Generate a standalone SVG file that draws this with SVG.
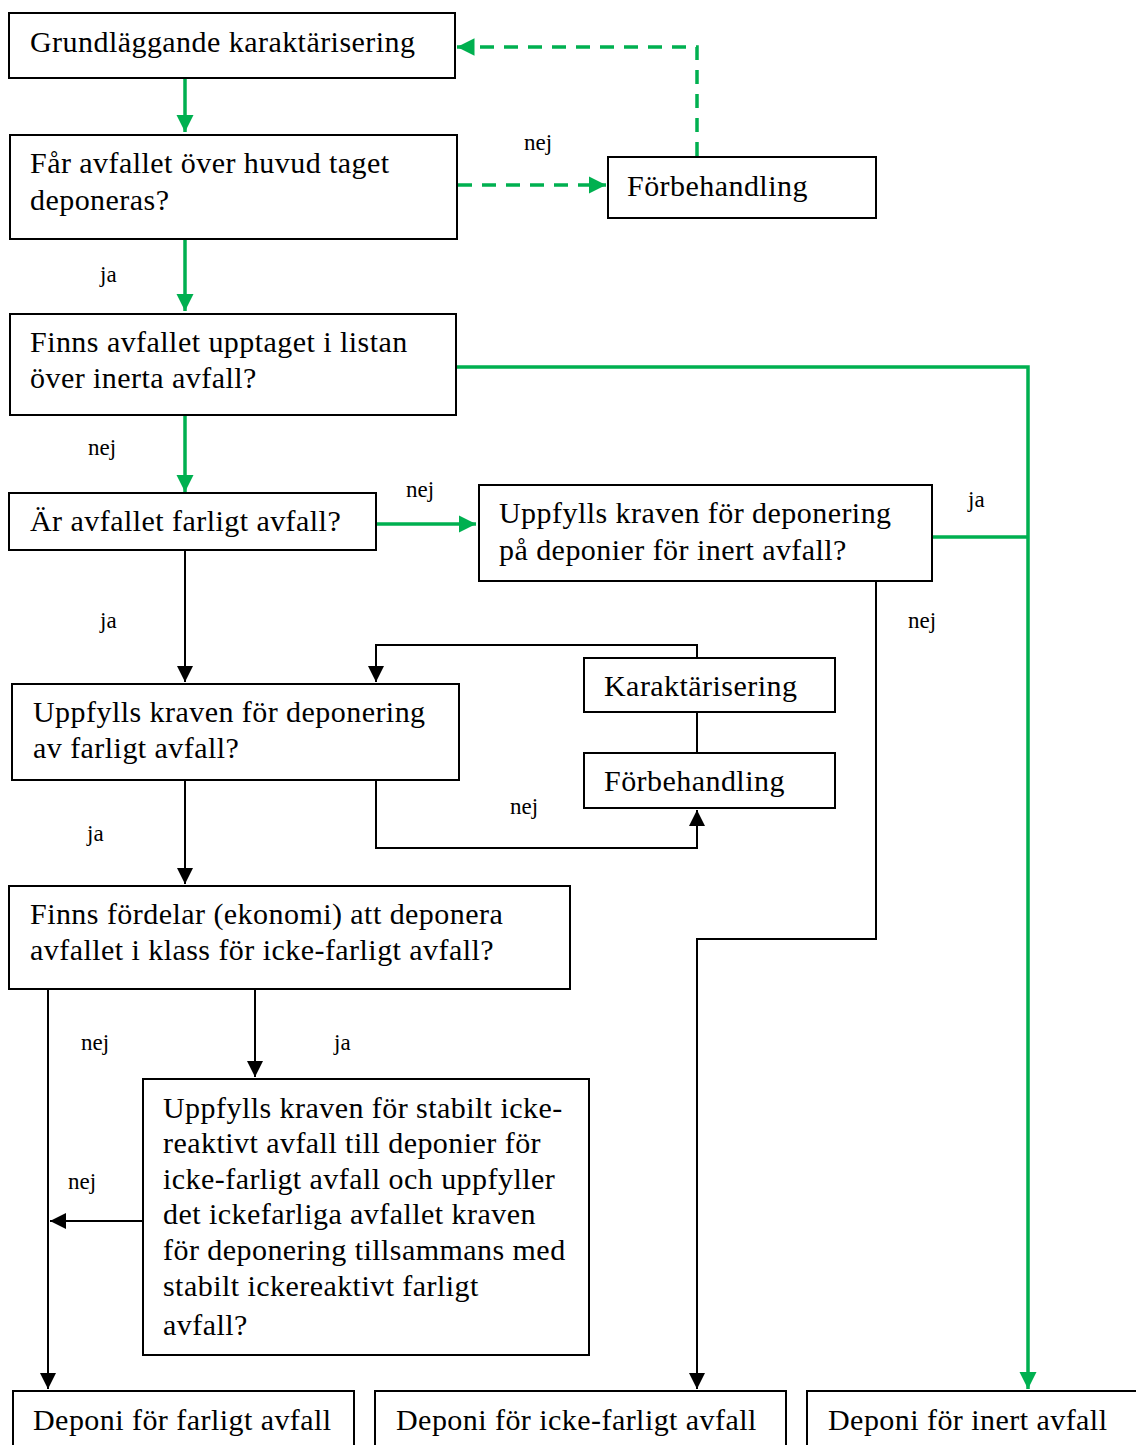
<svg xmlns="http://www.w3.org/2000/svg" width="1136" height="1445" viewBox="0 0 1136 1445">
<style>
.box{fill:#fff;stroke:#000;stroke-width:2}
.t{font-family:"Liberation Serif","Times New Roman",serif;font-size:30px;letter-spacing:0.45px;fill:#000}
.s{font-family:"Liberation Serif","Times New Roman",serif;font-size:23px;fill:#000}
.g{fill:none;stroke:#00B050;stroke-width:3.5}
.gd{fill:none;stroke:#00B050;stroke-width:3.5;stroke-dasharray:14 10}
.k{fill:none;stroke:#000;stroke-width:2}
</style>
<defs>
<marker id="ag" viewBox="0 0 10 10" refX="10" refY="5" markerWidth="5" markerHeight="5" orient="auto" markerUnits="strokeWidth"><path d="M0,0 L10,5 L0,10 z" fill="#00B050"/></marker>
<marker id="ak" viewBox="0 0 10 10" refX="10" refY="5" markerWidth="8" markerHeight="8" orient="auto" markerUnits="strokeWidth"><path d="M0,0 L10,5 L0,10 z" fill="#000"/></marker>
</defs>
<rect width="1136" height="1445" fill="#fff"/>
<g id="connectors">
<path class="g" d="M185,79 V132" marker-end="url(#ag)"/>
<path class="gd" d="M458,185 H606" marker-end="url(#ag)"/>
<path class="gd" d="M697,156 V47 H457" marker-end="url(#ag)"/>
<path class="g" d="M185,240 V311" marker-end="url(#ag)"/>
<path class="g" d="M457,367 H1028 V1389" marker-end="url(#ag)"/>
<path class="g" d="M185,416 V492" marker-end="url(#ag)"/>
<path class="g" d="M377,524 H476" marker-end="url(#ag)"/>
<path class="g" d="M933,537 H1028"/>
<path class="k" d="M876,582 V939 H697 V1389" marker-end="url(#ak)"/>
<path class="k" d="M185,551 V682" marker-end="url(#ak)"/>
<path class="k" d="M697,657 V645 H376 V682" marker-end="url(#ak)"/>
<path class="k" d="M697,713 V752"/>
<path class="k" d="M376,781 V848 H697 V810" marker-end="url(#ak)"/>
<path class="k" d="M185,781 V884" marker-end="url(#ak)"/>
<path class="k" d="M48,990 V1389" marker-end="url(#ak)"/>
<path class="k" d="M255,990 V1077" marker-end="url(#ak)"/>
<path class="k" d="M142,1221 H50" marker-end="url(#ak)"/>
<text class="s" x="524" y="150">nej</text>
<text class="s" x="100" y="282">ja</text>
<text class="s" x="88" y="455">nej</text>
<text class="s" x="406" y="497">nej</text>
<text class="s" x="968" y="507">ja</text>
<text class="s" x="908" y="628">nej</text>
<text class="s" x="100" y="628">ja</text>
<text class="s" x="510" y="814">nej</text>
<text class="s" x="87" y="841">ja</text>
<text class="s" x="81" y="1050">nej</text>
<text class="s" x="334" y="1050">ja</text>
<text class="s" x="68" y="1189">nej</text>
</g>
<g id="n1"><rect class="box" x="9" y="13" width="446" height="65"/><text class="t" x="30" y="52">Grundläggande karaktärisering</text></g>
<g id="n2"><rect class="box" x="10" y="135" width="447" height="104"/><text class="t" x="30" y="173">Får avfallet över huvud taget</text><text class="t" x="30" y="210">deponeras?</text></g>
<g id="n3"><rect class="box" x="608" y="157" width="268" height="61"/><text class="t" x="627" y="196">Förbehandling</text></g>
<g id="n4"><rect class="box" x="10" y="314" width="446" height="101"/><text class="t" x="30" y="352">Finns avfallet upptaget i listan</text><text class="t" x="30" y="388">över inerta avfall?</text></g>
<g id="n5"><rect class="box" x="9" y="493" width="367" height="57"/><text class="t" x="30" y="531">Är avfallet farligt avfall?</text></g>
<g id="n6"><rect class="box" x="479" y="485" width="453" height="96"/><text class="t" x="499" y="523">Uppfylls kraven för deponering</text><text class="t" x="499" y="560">på deponier för inert avfall?</text></g>
<g id="n7"><rect class="box" x="12" y="684" width="447" height="96"/><text class="t" x="33" y="722">Uppfylls kraven för deponering</text><text class="t" x="33" y="758">av farligt avfall?</text></g>
<g id="n8"><rect class="box" x="584" y="658" width="251" height="54"/><text class="t" x="604" y="696">Karaktärisering</text></g>
<g id="n9"><rect class="box" x="584" y="753" width="251" height="55"/><text class="t" x="604" y="791">Förbehandling</text></g>
<g id="n10"><rect class="box" x="9" y="886" width="561" height="103"/><text class="t" x="30" y="924">Finns fördelar (ekonomi) att deponera</text><text class="t" x="30" y="960">avfallet i klass för icke-farligt avfall?</text></g>
<g id="n11"><rect class="box" x="143" y="1079" width="446" height="276"/>
<text class="t" x="163" y="1118">Uppfylls kraven för stabilt icke-</text>
<text class="t" x="163" y="1153">reaktivt avfall till deponier för</text>
<text class="t" x="163" y="1189">icke-farligt avfall och uppfyller</text>
<text class="t" x="163" y="1224">det ickefarliga avfallet kraven</text>
<text class="t" x="163" y="1260">för deponering tillsammans med</text>
<text class="t" x="163" y="1296">stabilt ickereaktivt farligt</text>
<text class="t" x="163" y="1335">avfall?</text></g>
<g id="n12"><rect class="box" x="13" y="1391" width="341" height="60"/><text class="t" x="33" y="1430">Deponi för farligt avfall</text></g>
<g id="n13"><rect class="box" x="375" y="1391" width="411" height="60"/><text class="t" x="396" y="1430">Deponi för icke-farligt avfall</text></g>
<g id="n14"><rect class="box" x="807" y="1391" width="335" height="60"/><text class="t" x="828" y="1430">Deponi för inert avfall</text></g>
</svg>
